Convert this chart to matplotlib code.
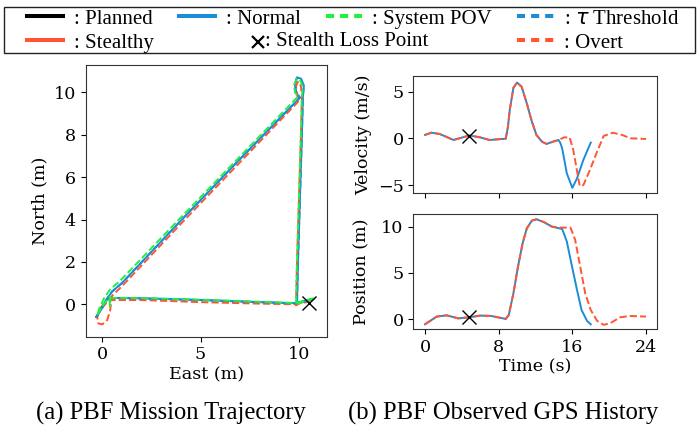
"""
PBF mission trajectory and observed GPS history
"""

import matplotlib
matplotlib.use('Agg')
import matplotlib.pyplot as plt
from matplotlib.lines import Line2D
from matplotlib.patches import Rectangle

BLUE = '#1a8cd8'
RED = '#ff5533'
GREEN = '#22f040'

# ---------- (a) trajectory, east / north in metres ----------
normal_east = [-0.3, -0.1, 0.1, 0.3, 2.0, 5.0, 8.0, 9.8, 10.4, 10.75, 10.3, 9.9,
               9.95, 10.05, 10.15, 10.2, 10.25, 10.1, 9.9, 9.8, 9.85, 10.05,
               7.0, 4.0, 1.0, 0.5, 0.2, -0.1, -0.3]
normal_north = [-0.6, -0.3, 0.0, 0.3, 0.28, 0.2, 0.1, 0.05, 0.15, 0.25, 0.15, 0.05,
                2.0, 5.0, 8.0, 9.8, 10.3, 10.65, 10.7, 10.4, 10.0, 9.75,
                6.85, 3.95, 1.0, 0.6, 0.2, -0.3, -0.6]

pov_east = [-0.25, -0.05, 0.15, 0.4, 0.4, 0.35, 2.0, 5.0, 8.0, 9.8, 10.4, 10.8, 10.3, 9.85,
            9.9, 10.0, 10.1, 10.15, 10.2, 10.05, 9.9, 9.75, 9.8, 9.95,
            7.0, 4.0, 0.9, 0.4, 0.1, -0.15, -0.25]
pov_north = [-0.5, -0.2, 0.1, 0.35, -0.1, 0.3, 0.3, 0.22, 0.12, 0.06, 0.2, 0.3, 0.15, 0.0,
             2.0, 5.0, 8.0, 9.8, 10.25, 10.6, 10.65, 10.35, 10.0, 9.8,
             6.97, 4.1, 1.1, 0.7, 0.3, -0.2, -0.5]

overt_east = [-0.3, -0.1, 0.15, 0.35, 2.0, 5.0, 8.0, 9.8, 10.4, 10.6, 10.2, 9.85,
              9.9, 10.0, 10.1, 10.15, 10.1, 9.95, 9.85, 9.9, 10.0,
              7.0, 4.0, 1.0, 0.5, 0.4, 0.25, 0.0, -0.2, -0.25, -0.1, 0.2]
overt_north = [-0.6, -0.3, 0.0, 0.2, 0.2, 0.1, 0.03, 0.0, 0.1, 0.2, 0.1, -0.05,
               2.0, 5.0, 8.0, 9.8, 10.3, 10.5, 10.3, 9.9, 9.6,
               6.7, 3.8, 0.85, 0.4, -0.3, -0.75, -0.95, -0.9, -0.6, -0.2, 0.2]

loss_east = [10.52]
loss_north = [0.08]

# ---------- (b) GPS history over time ----------
normal_t = [0.0, 0.7, 1.6, 3.1, 4.8, 6.0, 7.0, 8.77, 9.0, 9.2, 9.6, 10.0, 10.5, 11.05,
            11.6, 12.1, 12.7, 13.2, 13.9, 14.5, 14.7, 14.9, 15.4, 16.0, 16.5, 17.2, 18.0]
normal_vel = [0.36, 0.6, 0.46, -0.18, 0.3, 0.1, -0.18, -0.04, 1.2, 3.0, 5.4, 5.96, 5.5, 3.75,
              1.8, 0.36, -0.36, -0.6, -0.36, -0.18, -0.5, -1.1, -3.75, -5.3, -4.3, -2.3, -0.46]

overt_t = [0.0, 0.7, 1.6, 3.1, 4.8, 6.0, 7.0, 8.77, 9.0, 9.2, 9.6, 10.0, 10.5, 11.05,
           11.6, 12.1, 12.7, 13.2, 13.9, 14.5, 15.1, 15.7, 16.1, 16.8, 17.2, 17.9,
           18.7, 19.4, 20.4, 21.4, 22.3, 24.0]
overt_vel = [0.36, 0.6, 0.46, -0.18, 0.3, 0.1, -0.18, -0.04, 1.2, 3.0, 5.4, 5.96, 5.5, 3.75,
             1.8, 0.36, -0.36, -0.6, -0.36, -0.18, 0.1, 0.1, -1.25, -5.1, -5.0, -3.4,
             -1.4, 0.25, 0.6, 0.36, 0.0, -0.07]

normal_pt = [0.0, 1.27, 2.35, 3.6, 4.8, 6.0, 7.2, 8.77, 9.1, 9.6, 10.1, 10.6, 11.05,
             11.6, 12.1, 12.9, 13.8, 14.9, 15.4, 15.9, 16.5, 17.0, 17.6, 18.0]
normal_pos = [-0.54, 0.29, 0.43, 0.1, 0.22, 0.4, 0.36, 0.04, 0.47, 2.8, 5.7, 8.2, 9.8,
              10.65, 10.8, 10.5, 10.0, 9.75, 8.4, 6.0, 3.2, 1.0, -0.18, -0.54]

overt_pt = [0.0, 1.27, 2.35, 3.6, 4.8, 6.0, 7.2, 8.77, 9.1, 9.6, 10.1, 10.6, 11.05,
            11.6, 12.1, 12.9, 13.8, 14.7, 15.8, 16.3, 16.85, 17.4, 18.0, 18.7, 19.4,
            20.1, 21.2, 22.3, 24.0]
overt_pos = [-0.54, 0.29, 0.43, 0.1, 0.22, 0.4, 0.36, 0.04, 0.47, 2.8, 5.7, 8.2, 9.8,
             10.65, 10.8, 10.5, 10.0, 9.9, 9.9, 8.6, 5.7, 2.8, 1.0, -0.18, -0.6,
             -0.43, 0.22, 0.36, 0.29]

loss_t = [4.8]
loss_vel = [0.25]
loss_pos = [0.22]

plt.rcParams['font.family'] = 'DejaVu Serif'
plt.rcParams['font.size'] = 12.6

fig = plt.figure(figsize=(6.97, 4.37), dpi=100)

W, H = 697, 437
def box(l, t, r, b):
    return [l / W, 1 - b / H, (r - l) / W, (b - t) / H]

ax1 = fig.add_axes(box(85.7, 65, 326.7, 336.7))
ax_v = fig.add_axes(box(413.3, 76, 656.7, 193.3))
ax_p = fig.add_axes(box(413.3, 214, 656.7, 329.3), sharex=ax_v)

lw = 1.4
ax1.plot(normal_east, normal_north, color=BLUE, lw=lw)
ax1.plot(overt_east, overt_north, color=RED, lw=lw, ls='--')
ax1.plot(normal_east, normal_north, color=BLUE, lw=lw, ls='--')
ax1.plot(pov_east, pov_north, color=GREEN, lw=lw, ls='--')
ax1.plot(loss_east, loss_north, 'kx', ms=10, mew=1.0)
ax1.set_xlim(-0.84, 11.41)
ax1.set_ylim(-1.53, 11.29)
ax1.set_xticks([0, 5, 10])
ax1.set_yticks([0, 2, 4, 6, 8, 10])
ax1.set_xlabel('East (m)', labelpad=2)
ax1.set_ylabel('North (m)')

ax_v.plot(normal_t, normal_vel, color=BLUE, lw=lw)
ax_v.plot(overt_t, overt_vel, color=RED, lw=lw, ls='--')
ax_v.plot(loss_t, loss_vel, 'kx', ms=10, mew=1.0)
ax_v.set_ylim(-5.88, 6.66)
ax_v.set_yticks([-5, 0, 5])
ax_v.set_ylabel('Velocity (m/s)')
ax_v.tick_params(labelbottom=False)

ax_p.plot(normal_pt, normal_pos, color=BLUE, lw=lw)
ax_p.plot(overt_pt, overt_pos, color=RED, lw=lw, ls='--')
ax_p.plot(loss_t, loss_pos, 'kx', ms=10, mew=1.0)
ax_p.set_xlim(-1.27, 25.16)
ax_p.set_xticks([0, 8, 16, 24])
ax_p.set_ylim(-1.08, 11.37)
ax_p.set_yticks([0, 5, 10])
ax_p.set_ylabel('Position (m)', labelpad=8)
ax_p.set_xlabel('Time (s)', labelpad=2)

for ax in (ax1, ax_v, ax_p):
    for sp in ax.spines.values():
        sp.set_color('#333333')

# ---------- legend across the top ----------
hw = 2.9
dash = (2, 1.5)
blank = Line2D([], [], ls='none')
handles = [
    Line2D([], [], color='black', lw=hw),
    Line2D([], [], color=RED, lw=hw),
    Line2D([], [], color=BLUE, lw=hw),
    blank,
    Line2D([], [], color=GREEN, lw=hw, ls=(0, dash)),
    blank,
    Line2D([], [], color=BLUE, lw=hw, ls=(0, dash)),
    Line2D([], [], color=RED, lw=hw, ls=(0, dash)),
]
labels = [': Planned', ': Stealthy', ': Normal', '', ': System POV', '',
          r': $\tau$ Threshold', ': Overt']
fig.legend(handles, labels, ncol=4, frameon=False, loc='upper left',
           bbox_to_anchor=(27 / W, 1 - 9 / H), borderpad=0, borderaxespad=0,
           handlelength=1.75, handletextpad=0.5, columnspacing=1.2,
           labelspacing=0.22, prop={'family': 'Liberation Serif', 'size': 15})
fig.add_artist(Rectangle((4 / W, 1 - 53 / H), 691 / W, 46 / H, fill=False,
                         edgecolor='#222222', lw=1.0, transform=fig.transFigure))
fig.add_artist(Line2D([257.5 / W], [1 - 42 / H], marker='x', color='black', ms=9,
                      mew=1.6, transform=fig.transFigure))
fig.text(265 / W, 1 - 42 / H, ': Stealth Loss Point', ha='left', va='center',
         family='Liberation Serif', size=15)

fig.text(171 / W, 1 - 413 / H, '(a) PBF Mission Trajectory', ha='center', va='center',
         family='Liberation Serif', size=17.7)
fig.text(503 / W, 1 - 413 / H, '(b) PBF Observed GPS History', ha='center', va='center',
         family='Liberation Serif', size=17.7)

fig.savefig('out.png', dpi=100)
